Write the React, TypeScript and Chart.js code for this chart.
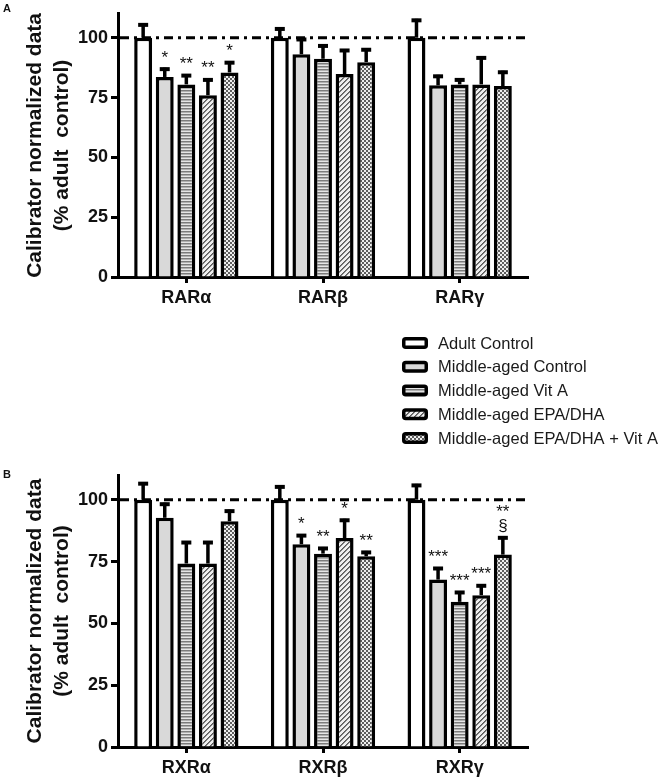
import { useEffect, useRef } from 'react';
import { Chart, registerables } from 'chart.js';
Chart.register(...registerables);

const FONT = "Arial, 'Liberation Sans', Helvetica, sans-serif";

const seriesNames = [
  'Adult Control',
  'Middle-aged Control',
  'Middle-aged Vit A',
  'Middle-aged EPA/DHA',
  'Middle-aged EPA/DHA + Vit A',
];

// Panel A
const catsA = ['RARα', 'RARβ', 'RARγ'];
const adultA = [100, 100, 100];
const adultAErr = [6, 4.3, 7.9];
const mcA = [83.6, 93.1, 80.1];
const mcAErr = [3.9, 6.8, 4.4];
const vitA_A = [80.5, 91.2, 80.5];
const vitA_AErr = [4.3, 6.0, 2.5];
const epaA = [76, 84.8, 80.5];
const epaAErr = [7, 10.5, 11.7];
const epaVitA_A = [85.5, 89.8, 79.8];
const epaVitA_AErr = [4.7, 5.8, 6.4];
const starsA = [
  ['', '', ''],
  ['*', '', ''],
  ['**', '', ''],
  ['**', '', ''],
  ['*', '', ''],
];

// Panel B
const catsB = ['RXRα', 'RXRβ', 'RXRγ'];
const adultB = [100, 100, 100];
const adultBErr = [7.1, 5.8, 6.4];
const mcB = [92.7, 82, 67.7];
const mcBErr = [6.1, 4.1, 5.1];
const vitA_B = [74.2, 78.2, 58.7];
const vitA_BErr = [9.1, 2.7, 4.4];
const epaB = [74.2, 84.5, 61.4];
const epaBErr = [9.1, 7.8, 4.4];
const epaVitA_B = [91.3, 77.1, 77.8];
const epaVitA_BErr = [4.7, 2.2, 7.4];
const starsB = [
  ['', '', ''],
  ['', '*', '***'],
  ['', '**', '***'],
  ['', '*', '***'],
  ['', '**', '**\n§'],
];

const yTickValues = [0, 25, 50, 75, 100];
const yMax = 110;
const refLineValue = 100;
const yTitle = ['Calibrator normalized data', '(% adult  control)'];

function makePatterns(): (string | CanvasPattern)[] {
  const mk = (w: number, h: number, draw: (c: CanvasRenderingContext2D) => void) => {
    const cv = document.createElement('canvas');
    cv.width = w;
    cv.height = h;
    const c = cv.getContext('2d')!;
    draw(c);
    return c.createPattern(cv, 'repeat')!;
  };
  const stripes = mk(4, 3, (c) => {
    c.fillStyle = '#e6e6e6';
    c.fillRect(0, 0, 4, 3);
    c.fillStyle = '#7c7c7c';
    c.fillRect(0, 0, 4, 1);
    c.fillStyle = '#b0b0b0';
    c.fillRect(0, 1, 4, 1);
  });
  const diag = mk(5, 5, (c) => {
    const img = c.createImageData(5, 5);
    for (let y = 0; y < 5; y++) {
      for (let x = 0; x < 5; x++) {
        const k = (x + y) % 5;
        const v = k === 0 ? 90 : k === 1 ? 130 : 240;
        const p = (y * 5 + x) * 4;
        img.data[p] = v;
        img.data[p + 1] = v;
        img.data[p + 2] = v;
        img.data[p + 3] = 255;
      }
    }
    c.putImageData(img, 0, 0);
  });
  const checker = mk(4, 4, (c) => {
    c.fillStyle = '#eeeeee';
    c.fillRect(0, 0, 4, 4);
    c.fillStyle = '#5e5e5e';
    c.fillRect(0, 0, 2, 2);
    c.fillRect(2, 2, 2, 2);
  });
  return ['#ffffff', '#d9d9d9', stripes, diag, checker];
}

const refLinePlugin = {
  id: 'refLine',
  beforeDatasetsDraw(chart: any) {
    const { ctx, chartArea, scales } = chart;
    const y = scales.y.getPixelForValue(refLineValue);
    ctx.save();
    ctx.strokeStyle = '#000';
    ctx.lineWidth = 3;
    ctx.setLineDash([9, 5, 3, 5]);
    ctx.beginPath();
    ctx.moveTo(chartArea.left + 2, y);
    ctx.lineTo(chartArea.right + 2, y);
    ctx.stroke();
    ctx.restore();
  },
};

const errorPlugin = {
  id: 'errBars',
  afterDatasetsDraw(chart: any) {
    const { ctx, scales } = chart;
    chart.data.datasets.forEach((ds: any, di: number) => {
      const meta = chart.getDatasetMeta(di);
      meta.data.forEach((bar: any, i: number) => {
        const v = ds.data[i];
        const e = ds.errors[i];
        const yTop = scales.y.getPixelForValue(v + e);
        ctx.save();
        ctx.strokeStyle = '#000';
        ctx.fillStyle = '#000';
        ctx.lineWidth = 3.5;
        ctx.beginPath();
        ctx.moveTo(bar.x, bar.y);
        ctx.lineTo(bar.x, yTop);
        ctx.stroke();
        ctx.fillRect(bar.x - 5, yTop - 0.5, 10, 4);
        const s = ds.stars ? ds.stars[i] : '';
        if (s) {
          const lines = s.split('\n');
          ctx.font = `17px ${FONT}`;
          ctx.textAlign = 'center';
          ctx.textBaseline = 'alphabetic';
          ctx.fillStyle = '#111';
          for (let k = lines.length - 1; k >= 0; k--) {
            ctx.fillText(lines[k], bar.x, yTop - 5 - (lines.length - 1 - k) * 14);
          }
        }
        ctx.restore();
      });
    });
  },
};

const legendPlugin = {
  id: 'customLegend',
  afterDraw(chart: any) {
    if (!chart.options.plugins.customLegend?.show) return;
    const { ctx } = chart;
    const datasets = chart.data.datasets;
    ctx.save();
    datasets.forEach((ds: any, i: number) => {
      const cy = 23 + i * 23.75;
      const bx = 402;
      const bw = 26;
      const bh = 12;
      const by = cy - bh / 2;
      ctx.fillStyle = ds.backgroundColor;
      ctx.beginPath();
      (ctx as any).roundRect(bx + 1.75, by + 1.75, bw - 3.5, bh - 3.5, 2);
      ctx.fill();
      ctx.strokeStyle = '#000';
      ctx.lineWidth = 3.5;
      ctx.stroke();
      ctx.fillStyle = '#1a1a1a';
      ctx.font = `16.5px ${FONT}`;
      ctx.textAlign = 'left';
      ctx.textBaseline = 'middle';
      ctx.fillText(ds.label, 438, cy + 1);
    });
    ctx.restore();
  },
};

function buildConfig(
  cats: string[],
  values: number[][],
  errors: number[][],
  stars: string[][],
  patterns: (string | CanvasPattern)[],
  padTop: number,
  xHeight: number,
  showLegend: boolean
): any {
  return {
    type: 'bar',
    data: {
      labels: cats,
      datasets: values.map((vals, i) => ({
        label: seriesNames[i],
        data: vals,
        errors: errors[i],
        stars: stars[i],
        backgroundColor: patterns[i],
        borderColor: '#000',
        borderWidth: 3.5,
        borderSkipped: 'start',
        categoryPercentage: 0.79,
        barPercentage: 0.83,
      })),
    },
    options: {
      responsive: false,
      animation: false,
      events: [],
      layout: { padding: { top: padTop, right: 138, bottom: 0, left: 0 } },
      plugins: {
        legend: { display: false },
        tooltip: { enabled: false },
        customLegend: { show: showLegend },
      },
      scales: {
        x: {
          type: 'category',
          offset: true,
          grid: {
            display: true,
            offset: false,
            drawOnChartArea: false,
            drawTicks: true,
            tickLength: 6,
            tickWidth: 3,
            tickColor: '#000',
            color: '#000',
          },
          border: { display: true, color: '#000', width: 3 },
          ticks: {
            color: '#111',
            padding: 4,
            font: { family: FONT, size: 18, weight: 'bold' },
          },
          afterFit: (s: any) => {
            s.height = xHeight;
          },
        },
        y: {
          type: 'linear',
          min: 0,
          max: yMax,
          grid: {
            display: true,
            drawOnChartArea: false,
            drawTicks: true,
            tickLength: 7,
            tickWidth: 3,
            tickColor: '#000',
            color: '#000',
          },
          border: { display: true, color: '#000', width: 3 },
          ticks: {
            stepSize: 25,
            color: '#111',
            padding: 3,
            font: { family: FONT, size: 18, weight: 'bold' },
          },
          afterBuildTicks: (s: any) => {
            s.ticks = yTickValues.map((v) => ({ value: v }));
          },
          title: {
            display: true,
            text: yTitle,
            color: '#111',
            padding: { top: 21.5, bottom: 0 },
            font: { family: FONT, size: 21, weight: 'bold', lineHeight: 1.3 },
          },
          afterFit: (s: any) => {
            s.width = 118;
          },
        },
      },
    },
    plugins: [refLinePlugin, errorPlugin, legendPlugin],
  };
}

export default function App() {
  const refA = useRef<HTMLCanvasElement>(null);
  const refB = useRef<HTMLCanvasElement>(null);

  useEffect(() => {
    const patterns = makePatterns();
    const chartA = new Chart(
      refA.current!,
      buildConfig(
        catsA,
        [adultA, mcA, vitA_A, epaA, epaVitA_A],
        [adultAErr, mcAErr, vitA_AErr, epaAErr, epaVitA_AErr],
        starsA,
        patterns,
        4,
        43,
        false
      )
    );
    const chartB = new Chart(
      refB.current!,
      buildConfig(
        catsB,
        [adultB, mcB, vitA_B, epaB, epaVitA_B],
        [adultBErr, mcBErr, vitA_BErr, epaBErr, epaVitA_BErr],
        starsB,
        patterns,
        155,
        34,
        true
      )
    );
    return () => {
      chartA.destroy();
      chartB.destroy();
    };
  }, []);

  const labelStyle: any = {
    position: 'absolute',
    fontFamily: FONT,
    fontWeight: 'bold',
    fontSize: 11,
    color: '#111',
    lineHeight: '11px',
  };

  return (
    <div style={{ position: 'absolute', left: 0, top: 0, width: 666, height: 781, background: '#fff', overflow: 'hidden' }}>
      <canvas ref={refA} width={666} height={320} style={{ position: 'absolute', left: 0, top: 0, width: 666, height: 320 }} />
      <canvas ref={refB} width={666} height={461} style={{ position: 'absolute', left: 0, top: 320, width: 666, height: 461 }} />
      <div style={{ ...labelStyle, left: 3, top: 3 }}>A</div>
      <div style={{ ...labelStyle, left: 3, top: 469 }}>B</div>
    </div>
  );
}
